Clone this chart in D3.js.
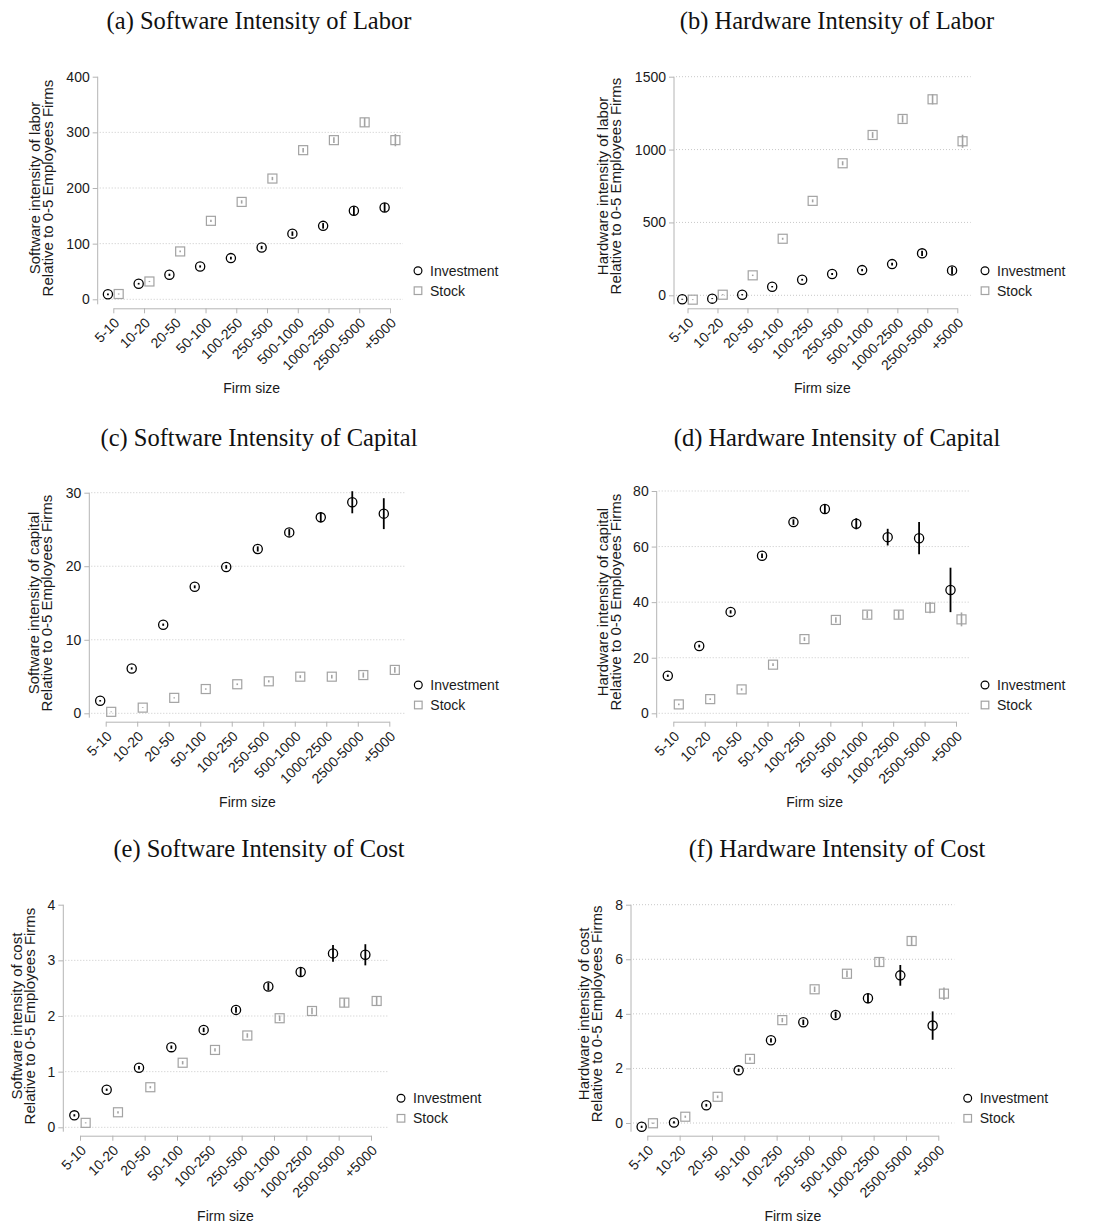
<!DOCTYPE html>
<html>
<head>
<meta charset="utf-8">
<script src="https://cdn.jsdelivr.net/npm/d3@7"></script>
<style>
  html, body { margin: 0; padding: 0; background: #fff; }
  svg { display: block; }
  text { font-family: "Liberation Sans", Arial, Helvetica, sans-serif; fill: #1a1a1a; }
</style>
</head>
<body>
<script>
// ---------- DATA ----------
const categories = ["5-10","10-20","20-50","50-100","100-250","250-500","500-1000","1000-2500","2500-5000","+5000"];

// (a) Software intensity of labor
const swLaborInv     = [9, 28, 44, 59, 74, 93, 118, 132, 159, 165];
const swLaborInvCI   = [1.5, 1.5, 2, 2, 2.5, 3, 4, 5, 8, 8];
const swLaborStock   = [9.5, 32, 86, 141, 175, 217, 268, 286, 318, 286];
const swLaborStockCI = [1, 1, 1.5, 2, 3, 3, 4, 5, 8, 11];
const swLaborTicks   = [0, 100, 200, 300, 400];

// (b) Hardware intensity of labor
const hwLaborInv     = [-27, -23, 4, 59, 107, 146, 173, 214, 288, 171];
const hwLaborInvCI   = [3, 3, 4, 5, 6, 7, 8, 10, 18, 25];
const hwLaborStock   = [-30, 4, 137, 388, 648, 906, 1100, 1210, 1345, 1057];
const hwLaborStockCI = [3, 4, 5, 7, 10, 14, 20, 25, 35, 45];
const hwLaborTicks   = [0, 500, 1000, 1500];

// (c) Software intensity of capital
const swCapInv     = [1.7, 6.1, 12.05, 17.2, 19.9, 22.35, 24.6, 26.65, 28.7, 27.15];
const swCapInvCI   = [0.1, 0.15, 0.15, 0.2, 0.25, 0.35, 0.45, 0.7, 1.5, 2.1];
const swCapStock   = [0.2, 0.77, 2.1, 3.3, 3.95, 4.35, 4.98, 4.98, 5.2, 5.9];
const swCapStockCI = [0.05, 0.05, 0.08, 0.1, 0.12, 0.15, 0.2, 0.25, 0.35, 0.4];
const swCapTicks   = [0, 10, 20, 30];

// (d) Hardware intensity of capital
const hwCapInv     = [13.5, 24.2, 36.5, 56.7, 68.8, 73.5, 68.2, 63.4, 63, 44.4];
const hwCapInvCI   = [0.4, 0.5, 0.6, 0.8, 1, 1.5, 2, 3, 5.8, 8];
const hwCapStock   = [3.2, 5.1, 8.6, 17.5, 26.7, 33.6, 35.5, 35.5, 38, 33.8];
const hwCapStockCI = [0.3, 0.3, 0.4, 0.5, 0.7, 1, 1.3, 1.5, 2, 2.5];
const hwCapTicks   = [0, 20, 40, 60, 80];

// (e) Software intensity of cost
const swCostInv     = [0.215, 0.675, 1.07, 1.44, 1.75, 2.11, 2.53, 2.79, 3.125, 3.1];
const swCostInvCI   = [0.02, 0.02, 0.03, 0.03, 0.04, 0.05, 0.07, 0.08, 0.15, 0.19];
const swCostStock   = [0.08, 0.27, 0.72, 1.16, 1.39, 1.65, 1.96, 2.09, 2.24, 2.27];
const swCostStockCI = [0.01, 0.02, 0.02, 0.03, 0.03, 0.04, 0.05, 0.06, 0.08, 0.08];
const swCostTicks   = [0, 1, 2, 3, 4];

// (f) Hardware intensity of cost
const hwCostInv     = [-0.14, 0.02, 0.65, 1.93, 3.03, 3.69, 3.96, 4.57, 5.41, 3.57];
const hwCostInvCI   = [0.04, 0.04, 0.05, 0.06, 0.08, 0.1, 0.12, 0.18, 0.38, 0.52];
const hwCostStock   = [-0.01, 0.23, 0.96, 2.35, 3.77, 4.9, 5.47, 5.9, 6.67, 4.74];
const hwCostStockCI = [0.03, 0.04, 0.05, 0.06, 0.08, 0.1, 0.12, 0.15, 0.17, 0.23];
const hwCostTicks   = [0, 2, 4, 6, 8];

const seriesNames = ["Investment", "Stock"];
const xTitle = "Firm size";
const yTitle2 = "Relative to 0-5 Employees Firms";

// ---------- LAYOUT ----------
const panels = [
  { title: "(a) Software Intensity of Labor", ytitle: "Software intensity of labor",
    inv: swLaborInv, invCI: swLaborInvCI, stock: swLaborStock, stockCI: swLaborStockCI, ticks: swLaborTicks, noGrid: [400],
    tx: 259, ty: 29, yAxisX: 97.7, x1: 113.3, x10: 390, gridEnd: 403, yTop: 76.7, y0: 299.3, xAxisY: 308.3,
    legX: 418, legY: 270.7, yt2: 48 },
  { title: "(b) Hardware Intensity of Labor", ytitle: "Hardware intensity of labor",
    inv: hwLaborInv, invCI: hwLaborInvCI, stock: hwLaborStock, stockCI: hwLaborStockCI, ticks: hwLaborTicks, noGrid: [],
    tx: 837, ty: 29, yAxisX: 674, x1: 687.5, x10: 957.3, gridEnd: 970.7, yTop: 76.7, y0: 295.3, xAxisY: 308.3,
    legX: 985, legY: 270.7, yt2: 616 },
  { title: "(c) Software Intensity of Capital", ytitle: "Software intensity of capital",
    inv: swCapInv, invCI: swCapInvCI, stock: swCapStock, stockCI: swCapStockCI, ticks: swCapTicks, noGrid: [],
    tx: 259, ty: 446, yAxisX: 89.3, x1: 105.7, x10: 389.3, gridEnd: 405, yTop: 492.7, y0: 713.3, xAxisY: 721.7,
    legX: 418.3, legY: 685, yt2: 47 },
  { title: "(d) Hardware Intensity of Capital", ytitle: "Hardware intensity of capital",
    inv: hwCapInv, invCI: hwCapInvCI, stock: hwCapStock, stockCI: hwCapStockCI, ticks: hwCapTicks, noGrid: [],
    tx: 837, ty: 446, yAxisX: 656.7, x1: 673.3, x10: 956, gridEnd: 970.7, yTop: 491, y0: 713.3, xAxisY: 721.7,
    legX: 985, legY: 685, yt2: 616 },
  { title: "(e) Software Intensity of Cost", ytitle: "Software intensity of cost",
    inv: swCostInv, invCI: swCostInvCI, stock: swCostStock, stockCI: swCostStockCI, ticks: swCostTicks, noGrid: [4],
    tx: 259, ty: 857, yAxisX: 63.3, x1: 80, x10: 371, gridEnd: 387.7, yTop: 904.7, y0: 1127.3, xAxisY: 1135.7,
    legX: 401, legY: 1098.3, yt2: 30 },
  { title: "(f) Hardware Intensity of Cost", ytitle: "Hardware intensity of cost",
    inv: hwCostInv, invCI: hwCostInvCI, stock: hwCostStock, stockCI: hwCostStockCI, ticks: hwCostTicks, noGrid: [],
    tx: 837, ty: 857, yAxisX: 631, x1: 647.3, x10: 938.3, gridEnd: 954.3, yTop: 904.7, y0: 1123, xAxisY: 1135.7,
    legX: 967.7, legY: 1098.3, yt2: 597 }
];

const AXIS_COLOR = "#b4b4b4";
const GRID_COLOR = "#c8c8c8";
const INV_COLOR = "#000000";
const STOCK_COLOR = "#a3a3a3";
const OFF = 0.175;

const svg = d3.select("body").append("svg").attr("width", 1101).attr("height", 1228);

panels.forEach(p => {
  const g = svg.append("g");
  const tickMax = d3.max(p.ticks);
  const y = d3.scaleLinear().domain([0, tickMax]).range([p.y0, p.yTop]);
  const x = d3.scaleLinear().domain([1, categories.length]).range([p.x1, p.x10]);

  // title
  svg.append("text").attr("x", p.tx).attr("y", p.ty).attr("text-anchor", "middle")
    .style("font-family", '"Liberation Serif", "Times New Roman", serif').style("font-size", "24.5px")
    .style("fill", "#111").text(p.title);

  // grid
  g.append("g").selectAll("line").data(p.ticks.filter(t => !p.noGrid.includes(t))).join("line")
    .attr("x1", p.yAxisX + 2).attr("x2", p.gridEnd)
    .attr("y1", d => y(d)).attr("y2", d => y(d))
    .attr("stroke", GRID_COLOR).attr("stroke-width", 1).attr("stroke-dasharray", "1,2");

  // y axis
  const ya = g.append("g").attr("transform", `translate(${p.yAxisX},0)`)
    .call(d3.axisLeft(y).tickValues(p.ticks).tickFormat(d => String(d)).tickSize(5).tickPadding(3).tickSizeOuter(0));
  ya.select(".domain").remove();
  ya.selectAll(".tick line").attr("stroke", AXIS_COLOR);
  ya.selectAll(".tick text").style("font-size", "14px").style("font-family", '"Liberation Sans", Arial, sans-serif').attr("fill", "#1a1a1a");
  g.append("line").attr("x1", p.yAxisX).attr("x2", p.yAxisX)
    .attr("y1", p.yTop).attr("y2", p.xAxisY - 4).attr("stroke", AXIS_COLOR).attr("stroke-width", 1);

  // x axis
  const xa = g.append("g").attr("transform", `translate(0,${p.xAxisY})`)
    .call(d3.axisBottom(x).tickValues(d3.range(1, categories.length + 1))
      .tickFormat(i => categories[i - 1]).tickSize(5).tickSizeOuter(0));
  xa.select(".domain").attr("stroke", AXIS_COLOR);
  xa.selectAll(".tick line").attr("stroke", AXIS_COLOR);
  xa.selectAll(".tick text")
    .attr("x", 0).attr("y", 0).attr("dy", "0.35em")
    .attr("text-anchor", "end")
    .attr("transform", "translate(3,12) rotate(-45)")
    .style("font-size", "14px").style("font-family", '"Liberation Sans", Arial, sans-serif').attr("fill", "#1a1a1a");

  // titles
  const ymid = (p.yTop + p.y0) / 2;
  [[p.ytitle, p.yt2 - 13], [yTitle2, p.yt2]].forEach(([t, cx]) => {
    g.append("text").attr("transform", `translate(${cx},${ymid}) rotate(-90)`)
      .attr("text-anchor", "middle").attr("dy", "0.35em").style("font-size", "15px").text(t);
  });
  g.append("text").attr("x", (p.x1 + p.x10) / 2).attr("y", p.xAxisY + 85)
    .attr("text-anchor", "middle").style("font-size", "14px").text(xTitle);

  // series
  const inv = p.inv.map((v, i) => ({ v, ci: p.invCI[i], xi: i + 1 - OFF }));
  const stk = p.stock.map((v, i) => ({ v, ci: p.stockCI[i], xi: i + 1 + OFF }));

  const sg = g.append("g");
  sg.selectAll("rect").data(stk).join("rect")
    .attr("x", d => x(d.xi) - 4.5).attr("y", d => y(d.v) - 4.5)
    .attr("width", 9).attr("height", 9)
    .attr("fill", "none").attr("stroke", STOCK_COLOR).attr("stroke-width", 1.2);
  sg.selectAll("line").data(stk).join("line")
    .attr("x1", d => x(d.xi)).attr("x2", d => x(d.xi))
    .attr("y1", d => y(d.v - d.ci)).attr("y2", d => y(d.v + d.ci))
    .attr("stroke", STOCK_COLOR).attr("stroke-width", 1.6);

  const ig = g.append("g");
  ig.selectAll("circle").data(inv).join("circle")
    .attr("cx", d => x(d.xi)).attr("cy", d => y(d.v)).attr("r", 4.6)
    .attr("fill", "none").attr("stroke", INV_COLOR).attr("stroke-width", 1.3);
  ig.selectAll("line").data(inv).join("line")
    .attr("x1", d => x(d.xi)).attr("x2", d => x(d.xi))
    .attr("y1", d => y(d.v - d.ci)).attr("y2", d => y(d.v + d.ci))
    .attr("stroke", INV_COLOR).attr("stroke-width", 1.8);

  // legend
  const lg = g.append("g").attr("transform", `translate(${p.legX},${p.legY})`);
  lg.append("circle").attr("cx", 0).attr("cy", 0).attr("r", 3.9)
    .attr("fill", "none").attr("stroke", INV_COLOR).attr("stroke-width", 1.2);
  lg.append("rect").attr("x", -3.8).attr("y", 20 - 3.8).attr("width", 7.6).attr("height", 7.6)
    .attr("fill", "none").attr("stroke", STOCK_COLOR).attr("stroke-width", 1.2);
  seriesNames.forEach((s, i) => {
    lg.append("text").attr("x", 12).attr("y", i * 20).attr("dy", "0.35em")
      .style("font-size", "14px").text(s);
  });
});
</script>
</body>
</html>
